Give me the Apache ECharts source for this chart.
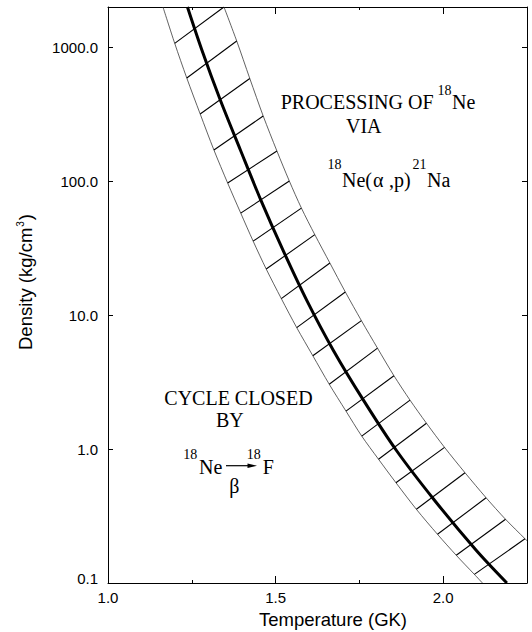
<!DOCTYPE html>
<html>
<head>
<meta charset="utf-8">
<script src="https://cdn.jsdelivr.net/npm/echarts@6/dist/echarts.min.js"></script>
<style>
  html, body { margin: 0; padding: 0; background: #fff; }
  #chart { width: 532px; height: 632px; }
</style>
</head>
<body>
<div id="chart"></div>
<script>
// Temperature (GK) / density (kg/cm^3) points of the 18Ne break-out line
const tCentre   = [1.237, 1.280, 1.335, 1.395, 1.456, 1.522, 1.593, 1.672, 1.762, 1.860, 1.974, 2.099, 2.190];
const rhoCentre = [2000, 955, 404, 171, 72.3, 30.6, 12.9, 5.48, 2.32, 0.980, 0.415, 0.175, 0.1];

// lower-temperature edge of the uncertainty band
const tLeft   = [1.164, 1.199, 1.235, 1.275, 1.316, 1.357, 1.396, 1.433, 1.472, 1.517, 1.563,
                 1.611, 1.660, 1.710, 1.757, 1.807, 1.859, 1.920, 1.983, 2.039, 2.093, 2.117];
const rhoLeft = [2000, 1071, 590, 318, 171, 96.9, 57.8, 35.7, 22.1, 13.3, 8.07,
                 4.98, 3.05, 1.92, 1.25, 0.840, 0.561, 0.355, 0.231, 0.161, 0.116, 0.1];

// higher-temperature edge of the uncertainty band
const tRight   = [1.346, 1.384, 1.423, 1.463, 1.504, 1.541, 1.577, 1.617, 1.662, 1.708, 1.756,
                  1.804, 1.853, 1.901, 1.950, 2.004, 2.065, 2.128, 2.186, 2.244, 2.250];
const rhoRight = [2000, 1115, 585, 307, 168, 100.3, 63.0, 39.9, 24.5, 14.9, 9.10,
                  5.67, 3.53, 2.32, 1.56, 1.03, 0.666, 0.433, 0.299, 0.214, 0.207];

// axis ranges and tick labels
const tempRange = [1.0, 2.25];
const rhoRange = [0.1, 2000];
const tempLabels = ['1.0', '1.5', '2.0'];
const rhoLabels = ['0.1', '1.0', '10.0', '100.0', '1000.0'];

const SANS = '"Liberation Sans", Arial, Helvetica, sans-serif';
const SERIF = '"Liberation Serif", "Times New Roman", serif';

const zip = (xs, ys) => xs.map((x, i) => [x, ys[i]]);

// hatching: each rung joins a point on the lower edge with the next point up on the upper edge
const hatch = [];
for (let k = 0; k + 1 < tLeft.length - 1 && k < tRight.length - 1; k++) {
  hatch.push({ coords: [[tLeft[k + 1], rhoLeft[k + 1]], [tRight[k], rhoRight[k]]] });
}

function tempLabel(v) {
  const s = v.toFixed(1);
  return (Math.abs(v * 2 - Math.round(v * 2)) < 1e-6 && tempLabels.includes(s)) ? s : '';
}
function rhoLabel(v) {
  if (v > 1500) return '';
  const s = Number(v.toPrecision(3)).toFixed(1);
  if (!rhoLabels.includes(s)) return '';
  return s === rhoLabels[0] ? '{low|' + s + '}' : s;
}

const axisLineStyle = { color: '#000', width: 1 };
const tickStyle = { color: '#000', width: 1 };

function xAxisDef(position, interval, tickLen, withLine, withLabels) {
  return {
    type: 'value', position, min: tempRange[0], max: tempRange[1], interval,
    axisLine: { show: withLine, lineStyle: axisLineStyle },
    axisTick: { inside: true, length: tickLen, lineStyle: tickStyle },
    axisLabel: withLabels ? {
      margin: 7, fontSize: 15, color: '#000', fontFamily: SANS, formatter: tempLabel
    } : { show: false },
    splitLine: { show: false }
  };
}

const xMain = xAxisDef('bottom', 0.5, 7, true, true);
xMain.name = 'Temperature (GK)';
xMain.nameLocation = 'middle';
xMain.nameGap = 27;
xMain.nameTextStyle = { fontFamily: SANS, fontSize: 18.5, color: '#000', padding: [0, 0, 0, 31] };

const option = {
  animation: false,
  backgroundColor: '#fff',
  grid: { left: 108, right: 5, top: 7, bottom: 49, containLabel: false, outerBoundsMode: 'none' },
  xAxis: [
    xMain,
    xAxisDef('bottom', 0.25, 3, false, false),
    xAxisDef('top', 0.5, 7, true, false),
    xAxisDef('top', 0.25, 3, false, false)
  ],
  yAxis: [
    {
      type: 'log', logBase: 10, position: 'left', min: rhoRange[0], max: rhoRange[1],
      axisLine: { show: true, lineStyle: axisLineStyle },
      axisTick: { inside: true, length: 5, lineStyle: tickStyle },
      minorTick: { show: false },
      splitLine: { show: false },
      axisLabel: {
        margin: 10, fontSize: 15, color: '#000', fontFamily: SANS, formatter: rhoLabel,
        rich: { low: { fontSize: 15, color: '#000', fontFamily: SANS, padding: [0, 0, 10, 0] } }
      },
      name: '{a|Density (kg/cm}{s|3}{a|)}',
      nameLocation: 'middle',
      nameGap: 72,
      nameTextStyle: {
        fontFamily: SANS, fontSize: 18.5, color: '#000', padding: [0, 0, 0, 26],
        rich: {
          a: { fontFamily: SANS, fontSize: 18.5, color: '#000', lineHeight: 22 },
          s: { fontFamily: SANS, fontSize: 10, color: '#000', verticalAlign: 'top', padding: [1, 1, 0, 1] }
        }
      }
    },
    {
      type: 'log', logBase: 10, position: 'right', min: rhoRange[0], max: rhoRange[1],
      axisLine: { show: true, lineStyle: axisLineStyle },
      axisTick: { inside: true, length: 5, lineStyle: tickStyle },
      minorTick: { show: false },
      splitLine: { show: false },
      axisLabel: { show: false }
    }
  ],
  series: [
    {
      name: 'lower edge', type: 'line', xAxisIndex: 0, yAxisIndex: 0,
      data: zip(tLeft, rhoLeft), showSymbol: false, smooth: 0.3,
      lineStyle: { color: '#3a3a3a', width: 0.8 }, silent: true, z: 2
    },
    {
      name: 'upper edge', type: 'line', xAxisIndex: 0, yAxisIndex: 0,
      data: zip(tRight, rhoRight), showSymbol: false, smooth: 0.3,
      lineStyle: { color: '#3a3a3a', width: 0.8 }, silent: true, z: 2
    },
    {
      name: 'hatch', type: 'lines', coordinateSystem: 'cartesian2d', xAxisIndex: 0, yAxisIndex: 0,
      data: hatch, lineStyle: { color: '#000', width: 1.1, opacity: 1 }, silent: true, z: 3
    },
    {
      name: 'centre', type: 'line', xAxisIndex: 0, yAxisIndex: 0,
      data: zip(tCentre, rhoCentre), showSymbol: false, smooth: 0.3,
      lineStyle: { color: '#000', width: 3 }, silent: true, z: 4
    }
  ],
  graphic: (function () {
    const items = [];
    function txt(text, x, y, size) {
      items.push({
        type: 'text', x, y, silent: true,
        style: { text, fill: '#000', font: size + 'px ' + SERIF, textAlign: 'left', textVerticalAlign: 'middle', verticalAlign: 'middle' }
      });
    }
    txt('PROCESSING OF', 280.7, 101.7, 20);
    txt('18', 437.5, 90, 14);
    txt('Ne', 452, 101.7, 20);
    txt('VIA', 346, 126.1, 20);
    txt('18', 327.5, 164.9, 14);
    txt('Ne(', 342, 180.1, 20);
    txt('\u03b1', 373, 180.1, 20);
    txt(',p)', 389, 180.1, 20);
    txt('21', 412.5, 164.9, 14);
    txt('Na', 427, 180.1, 20);

    txt('CYCLE CLOSED', 164.3, 397.7, 20);
    txt('BY', 216, 420.1, 20);
    txt('18', 183.3, 454.9, 14);
    txt('Ne', 199, 467.4, 20);
    txt('18', 246.7, 454.9, 14);
    txt('F', 262.7, 467.4, 20);
    txt('\u03b2', 229.3, 486.4, 20);

    items.push({
      type: 'line', silent: true,
      shape: { x1: 226, y1: 465.7, x2: 250, y2: 465.7 },
      style: { stroke: '#000', lineWidth: 1.2 }
    });
    items.push({
      type: 'polygon', silent: true,
      shape: { points: [[247.5, 463.4], [257, 465.7], [247.5, 468]] },
      style: { fill: '#000' }
    });
    return items;
  })()
};

const chart = echarts.init(document.getElementById('chart'), null, { renderer: 'svg' });
chart.setOption(option);
</script>
</body>
</html>
